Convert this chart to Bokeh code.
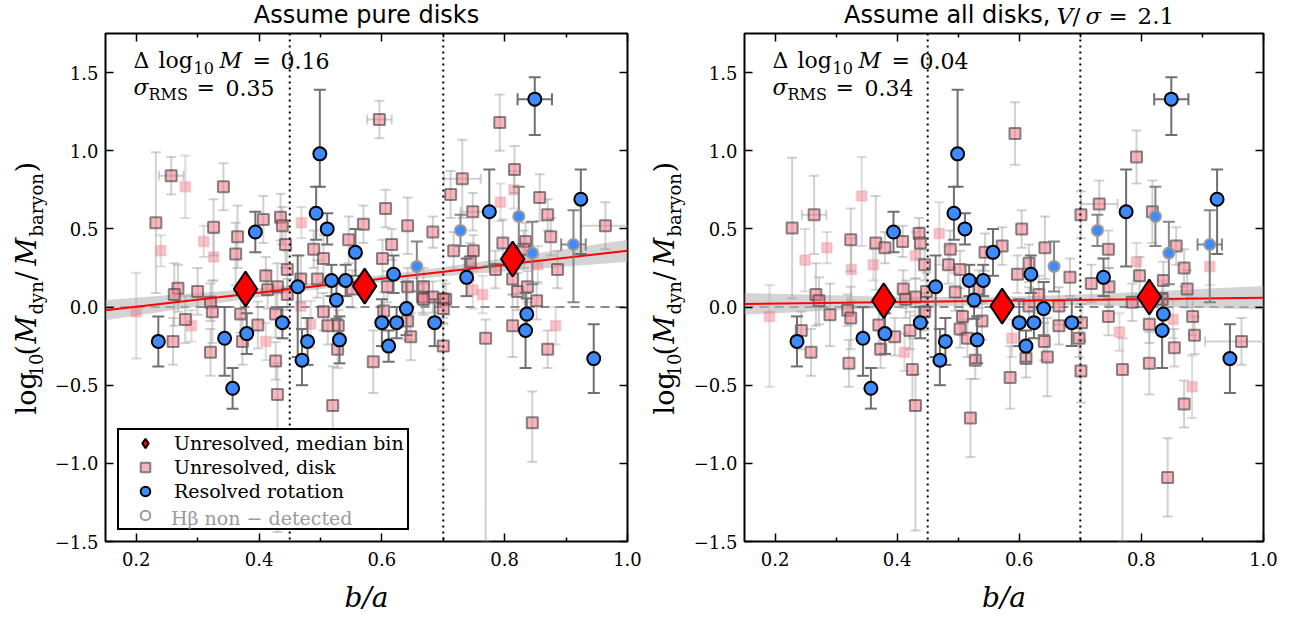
import numpy as np
from bokeh.plotting import figure
from bokeh.layouts import row, column
from bokeh.models import (Range1d, FixedTicker, CustomJSTickFormatter, LinearAxis,
                          Span, Label, Legend, LegendItem)
from bokeh.embed import file_html
from bokeh.resources import INLINE

# ---------------- data ----------------
# resolved rotators (same galaxies in both panels)
res_ba = [0.236, 0.394, 0.344, 0.380, 0.357, 0.438, 0.463, 0.479, 0.470, 0.499,
          0.493, 0.511, 0.557, 0.518, 0.541, 0.526, 0.531, 0.600, 0.619, 0.640,
          0.624, 0.611, 0.686, 0.738, 0.775, 0.849, 0.924, 0.836, 0.834, 0.945]
res_dm = [-0.22, 0.48, -0.20, -0.17, -0.52, -0.10, 0.13, -0.22, -0.34, 0.98,
          0.60, 0.50, 0.35, 0.17, 0.17, 0.045, -0.21, -0.10, 0.21, -0.01,
          -0.10, -0.25, -0.10, 0.19, 0.61, 1.33, 0.69, -0.045, -0.15, -0.33]
res_elo = [0.16, 0.13, 0.24, 0.13, 0.13, 0.10, 0.45, 0.15, 0.16, 0.21,
           0.17, 0.10, 0.15, 0.10, 0.10, 0.12, 0.15, 0.15, 0.12, 0.17,
           0.10, 0.10, 0.15, 0.12, 0.35, 0.23, 0.35, 0.10, 0.24, 0.22]
res_ehi = [0.16, 0.13, 0.20, 0.13, 0.13, 0.10, 0.20, 0.15, 0.20, 0.41,
           0.17, 0.10, 0.15, 0.10, 0.10, 0.12, 0.15, 0.15, 0.12, 0.17,
           0.10, 0.10, 0.15, 0.12, 0.27, 0.14, 0.19, 0.10, 0.24, 0.22]
res_xerr = [0, 0, 0, 0, 0, 0, 0, 0, 0, 0,
            0, 0, 0, 0, 0, 0, 0, 0, 0, 0,
            0, 0, 0, 0, 0, 0.028, 0, 0, 0, 0]

# resolved rotators without an H-beta detection
resnd_ba = [0.657, 0.728, 0.823, 0.845, 0.912]
resnd_dm = [0.26, 0.49, 0.58, 0.345, 0.40]
resnd_elo = [0.16, 0.10, 0.19, 0.20, 0.37]
resnd_ehi = [0.16, 0.10, 0.19, 0.20, 0.22]
resnd_xerr = [0, 0, 0, 0, 0.02]

# unresolved galaxies, pure-disk assumption
left_ba = [0.342, 0.326, 0.365, 0.407, 0.435, 0.438, 0.469, 0.489, 0.443, 0.326,
           0.362, 0.446, 0.411, 0.430, 0.446, 0.414, 0.468, 0.495, 0.505, 0.546,
           0.570, 0.606, 0.601, 0.616, 0.642, 0.683, 0.712, 0.321, 0.324, 0.370,
           0.398, 0.373, 0.427, 0.427, 0.321, 0.430, 0.505, 0.512, 0.529, 0.528,
           0.520, 0.552, 0.586, 0.603, 0.609, 0.642, 0.666, 0.683, 0.647, 0.642,
           0.700, 0.704, 0.468, 0.484, 0.411, 0.792, 0.731, 0.816, 0.748, 0.857,
           0.870, 0.717, 0.797, 0.834, 0.875, 0.964, 0.749, 0.744, 0.785, 0.813,
           0.831, 0.821, 0.837, 0.886, 0.748, 0.668, 0.668, 0.700, 0.700, 0.852,
           0.813, 0.769, 0.870, 0.793, 0.815, 0.883, 0.764, 0.854, 0.596, 0.845,
           0.232, 0.257, 0.268, 0.262, 0.310, 0.280, 0.300, 0.280, 0.260, 0.200,
           0.240, 0.290]
left_dm = [0.77, 0.51, 0.45, 0.56, 0.575, 0.52, 0.54, 0.37, 0.40, 0.32,
           0.34, 0.24, 0.20, 0.13, 0.08, 0.11, 0.18, 0.18, 0.31, 0.43,
           0.53, 0.63, 0.31, 0.40, 0.52, 0.48, 0.72, 0.03, -0.03, -0.045,
           -0.115, -0.22, -0.045, -0.345, -0.29, -0.56, -0.03, -0.12, -0.12, -0.27,
           -0.63, 0.115, -0.35, -0.025, 0.13, 0.13, 0.064, 0.064, -0.19, -0.09,
           -0.25, 0.05, 0.006, -0.11, -0.22, 1.18, 0.82, 0.88, 0.61, 0.70,
           0.59, 0.36, 0.41, 0.42, 0.45, 0.52, 0.36, 0.29, 0.24, 0.18,
           0.37, 0.10, 0.13, 0.24, 0.11, 0.13, 0.05, 0.05, -0.01, 0.04,
           -0.12, -0.20, -0.27, 0.67, 0.75, -0.12, 0.08, 0.27, 1.20, -0.74,
           0.54, 0.84, 0.12, 0.08, 0.42, 0.77, 0.10, -0.08, -0.22, -0.03,
           0.36, -0.12]
left_elo = [0.15, 0.18, 0.20, 0.15, 0.15, 0.12, 0.10, 0.12, 0.15, 0.15,
            0.20, 0.12, 0.12, 0.15, 0.10, 0.12, 0.15, 0.12, 0.15, 0.15,
            0.12, 0.12, 0.12, 0.10, 0.18, 0.10, 0.15, 0.12, 0.20, 0.12,
            0.15, 0.15, 0.15, 0.12, 0.15, 0.88, 0.12, 0.12, 0.10, 0.12,
            0.30, 0.12, 0.20, 0.12, 0.10, 0.12, 0.10, 0.10, 0.15, 0.12,
            0.15, 0.10, 0.15, 0.15, 0.12, 0.18, 0.25, 0.15, 0.12, 0.15,
            0.10, 0.12, 0.15, 0.12, 0.12, 0.15, 0.10, 0.12, 0.12, 0.10,
            0.12, 0.12, 0.10, 0.12, 0.12, 0.12, 0.10, 0.12, 0.10, 0.12,
            0.20, 1.30, 0.12, 0.12, 0.12, 0.12, 0.12, 0.12, 0.12, 0.25,
            0.45, 0.12, 0.15, 0.20, 0.10, 0.20, 0.15, 0.15, 0.15, 0.30,
            0.10, 0.10]
left_ehi = [0.15, 0.18, 0.20, 0.15, 0.15, 0.12, 0.10, 0.12, 0.15, 0.15,
            0.20, 0.12, 0.12, 0.15, 0.10, 0.12, 0.15, 0.12, 0.15, 0.15,
            0.12, 0.12, 0.12, 0.10, 0.18, 0.10, 0.15, 0.12, 0.20, 0.12,
            0.15, 0.15, 0.15, 0.12, 0.15, 0.20, 0.12, 0.12, 0.10, 0.12,
            0.25, 0.12, 0.20, 0.12, 0.10, 0.12, 0.10, 0.10, 0.15, 0.12,
            0.15, 0.10, 0.15, 0.15, 0.12, 0.18, 0.25, 0.15, 0.12, 0.15,
            0.10, 0.12, 0.15, 0.12, 0.12, 0.15, 0.10, 0.12, 0.12, 0.10,
            0.12, 0.12, 0.10, 0.12, 0.12, 0.12, 0.10, 0.12, 0.10, 0.12,
            0.20, 0.12, 0.12, 0.12, 0.12, 0.12, 0.12, 0.12, 0.12, 0.20,
            0.45, 0.12, 0.15, 0.20, 0.10, 0.20, 0.15, 0.15, 0.15, 0.25,
            0.10, 0.10]
left_xerr = [0, 0, 0, 0, 0, 0, 0, 0, 0, 0,
             0, 0, 0, 0, 0, 0, 0, 0, 0, 0,
             0, 0, 0, 0, 0, 0, 0, 0, 0, 0,
             0, 0, 0, 0, 0, 0, 0, 0, 0, 0,
             0, 0, 0, 0, 0, 0, 0, 0, 0, 0,
             0, 0, 0, 0, 0, 0, 0.03, 0, 0.02, 0,
             0, 0, 0, 0, 0, 0.04, 0, 0, 0, 0,
             0, 0, 0, 0, 0, 0, 0, 0, 0, 0,
             0, 0, 0, 0, 0, 0, 0, 0, 0.02, 0,
             0, 0.02, 0, 0, 0, 0, 0, 0, 0, 0,
             0, 0]
left_hb = [1, 1, 1, 1, 1, 1, 0, 1, 1, 0,
           1, 1, 1, 1, 1, 1, 1, 1, 1, 1,
           1, 1, 1, 1, 1, 1, 1, 1, 1, 1,
           1, 1, 1, 1, 1, 1, 1, 1, 1, 1,
           1, 1, 1, 1, 1, 1, 1, 1, 1, 1,
           1, 1, 0, 0, 0, 1, 1, 1, 1, 1,
           1, 1, 1, 1, 1, 1, 1, 1, 1, 1,
           1, 1, 1, 1, 0, 1, 1, 1, 1, 1,
           1, 1, 1, 0, 0, 0, 0, 0, 1, 1,
           1, 1, 1, 1, 0, 0, 1, 1, 1, 0,
           0, 0]

# unresolved galaxies, all disks with V/sigma = 2.1
right_ba = [0.228, 0.264, 0.249, 0.285, 0.342, 0.324, 0.325, 0.365, 0.380, 0.361,
            0.409, 0.436, 0.438, 0.430, 0.445, 0.191, 0.267, 0.272, 0.290, 0.243,
            0.259, 0.319, 0.324, 0.321, 0.370, 0.373, 0.396, 0.410, 0.414, 0.430,
            0.448, 0.445, 0.421, 0.412, 0.425, 0.430, 0.469, 0.487, 0.484, 0.503,
            0.495, 0.507, 0.503, 0.515, 0.528, 0.520, 0.544, 0.572, 0.534, 0.539,
            0.585, 0.604, 0.597, 0.588, 0.593, 0.616, 0.632, 0.616, 0.642, 0.665,
            0.665, 0.641, 0.646, 0.611, 0.683, 0.702, 0.701, 0.701, 0.698, 0.718,
            0.731, 0.746, 0.747, 0.746, 0.769, 0.764, 0.792, 0.797, 0.785, 0.813,
            0.813, 0.818, 0.792, 0.836, 0.834, 0.854, 0.857, 0.870, 0.875, 0.852,
            0.884, 0.887, 0.883, 0.870, 0.912, 0.964, 0.843]
right_dm = [0.505, 0.59, 0.30, 0.38, 0.71, 0.43, 0.24, 0.41, 0.38, 0.27,
            0.42, 0.47, 0.41, 0.33, 0.27, -0.06, 0.08, 0.04, -0.05, -0.15,
            -0.29, -0.02, -0.07, -0.36, -0.115, -0.27, -0.19, 0.115, 0.05, 0.064,
            0.10, -0.03, -0.15, -0.29, -0.40, -0.63, 0.47, 0.37, 0.27, 0.24,
            0.096, -0.06, -0.14, -0.20, -0.34, -0.71, 0.35, 0.39, 0.115, -0.09,
            -0.45, 0.50, 0.21, -0.20, 1.11, 0.28, 0.08, 0.006, 0.38, 0.006,
            -0.12, -0.22, -0.32, -0.33, 0.19, -0.10, -0.41, 0.59, -0.20, 0.15,
            0.66, 0.37, 0.13, -0.06, -0.40, -0.16, 0.96, 0.20, 0.03, -0.11,
            -0.36, 0.61, 0.29, 0.17, 0.05, -0.26, 0.39, 0.25, 0.115, -0.08,
            -0.06, -0.18, -0.51, -0.62, 0.26, -0.22, -1.09]
right_elo = [0.45, 0.25, 0.20, 0.10, 0.32, 0.20, 0.20, 0.30, 0.10, 0.10,
             0.10, 0.10, 0.10, 0.15, 0.10, 0.45, 0.20, 0.15, 0.20, 0.12,
             0.15, 0.10, 0.20, 0.15, 0.12, 0.12, 0.12, 0.12, 0.12, 0.12,
             0.12, 0.12, 0.12, 0.12, 0.20, 0.80, 0.20, 0.12, 0.12, 0.12,
             0.12, 0.12, 0.12, 0.12, 0.12, 0.25, 0.12, 0.12, 0.12, 0.12,
             0.20, 0.12, 0.12, 0.12, 0.20, 0.12, 0.12, 0.12, 0.20, 0.12,
             0.12, 0.12, 0.25, 0.12, 0.12, 0.12, 0.20, 0.15, 0.12, 0.12,
             0.15, 0.12, 0.12, 0.12, 1.10, 0.12, 0.17, 0.12, 0.12, 0.12,
             0.20, 0.20, 0.12, 0.12, 0.12, 0.12, 0.12, 0.12, 0.12, 0.12,
             0.12, 0.12, 0.20, 0.15, 0.12, 0.15, 0.25]
right_ehi = [0.45, 0.25, 0.20, 0.10, 0.25, 0.20, 0.20, 0.30, 0.10, 0.10,
             0.10, 0.10, 0.10, 0.15, 0.10, 0.20, 0.20, 0.15, 0.20, 0.12,
             0.15, 0.10, 0.20, 0.15, 0.12, 0.12, 0.12, 0.12, 0.12, 0.12,
             0.12, 0.12, 0.12, 0.12, 0.20, 0.20, 0.20, 0.12, 0.12, 0.12,
             0.12, 0.12, 0.12, 0.12, 0.12, 0.25, 0.12, 0.12, 0.12, 0.12,
             0.20, 0.12, 0.12, 0.12, 0.20, 0.12, 0.12, 0.12, 0.20, 0.12,
             0.12, 0.12, 0.25, 0.12, 0.12, 0.12, 0.20, 0.15, 0.12, 0.12,
             0.15, 0.12, 0.12, 0.12, 0.20, 0.12, 0.17, 0.12, 0.12, 0.12,
             0.20, 0.20, 0.12, 0.12, 0.12, 0.12, 0.12, 0.12, 0.12, 0.12,
             0.12, 0.12, 0.20, 0.15, 0.12, 0.15, 0.25]
right_xerr = [0, 0.02, 0, 0, 0, 0, 0, 0, 0, 0,
              0, 0, 0, 0, 0, 0, 0, 0, 0, 0,
              0, 0, 0, 0, 0, 0, 0, 0, 0, 0,
              0, 0, 0, 0, 0, 0, 0, 0, 0, 0,
              0, 0, 0, 0, 0, 0, 0, 0, 0, 0,
              0, 0, 0, 0, 0, 0, 0, 0, 0, 0,
              0, 0, 0, 0, 0, 0, 0, 0, 0, 0,
              0.03, 0, 0, 0, 0, 0, 0, 0, 0, 0,
              0, 0, 0, 0, 0, 0, 0, 0, 0, 0,
              0, 0, 0, 0, 0, 0.06, 0]
right_hb = [1, 1, 0, 0, 0, 1, 0, 1, 1, 0,
            1, 1, 1, 0, 1, 0, 1, 1, 1, 1,
            1, 1, 1, 1, 1, 1, 1, 1, 1, 1,
            1, 1, 1, 0, 1, 1, 0, 1, 1, 1,
            1, 1, 1, 1, 1, 1, 1, 1, 1, 1,
            1, 1, 1, 0, 1, 1, 1, 1, 1, 1,
            1, 1, 1, 1, 1, 1, 1, 1, 1, 1,
            1, 1, 1, 1, 1, 0, 1, 1, 1, 1,
            1, 1, 0, 1, 1, 1, 1, 1, 1, 0,
            1, 1, 0, 1, 0, 1, 1]

# median-bin values
bin_ba = [0.378, 0.572, 0.813]
bin_dm_left = [0.115, 0.134, 0.307]
bin_dm_right = [0.040, 0.006, 0.064]

# linear fits and their confidence band
fit_ba = [0.15, 1.0]
fit_left = [-0.02, 0.36]
fit_right = [0.02, 0.06]
band_ba = [0.15, 0.25, 0.35, 0.45, 0.55, 0.65, 0.75, 0.85, 1.0]
band_half_left = [0.065, 0.05, 0.035, 0.025, 0.02, 0.025, 0.035, 0.05, 0.07]
band_half_right = [0.07, 0.055, 0.04, 0.03, 0.025, 0.03, 0.04, 0.055, 0.075]

# b/a bin edges
bin_edges = [0.45, 0.70]

x_ticks = [0.2, 0.4, 0.6, 0.8, 1.0]
x_minor = [0.3, 0.5, 0.7, 0.9]
y_ticks = [-1.5, -1.0, -0.5, 0.0, 0.5, 1.0, 1.5]

# ---------------- styling ----------------
SERIF = "DejaVu Serif"
SANS = "DejaVu Sans"
PINK = "#f07a88"
BLUE = "#3d8bff"
BASE_FIX = 0.36   # lift applied to alphabetic-baseline labels, in em


def rich(p, x, y, pieces, angle=0.0, color="black", font=SERIF):
    """Place text pieces (text, size, style, shift, offset) in frame pixels.
    offset runs along the text direction, shift is a drop below the baseline."""
    c, s = np.cos(angle), np.sin(angle)
    for t, sz, style, shift, off in pieces:
        drop = shift - BASE_FIX * sz
        px = x + off * c + drop * s
        py = y + off * s - drop * c
        p.add_layout(Label(x=px, y=py, x_units="screen", y_units="screen",
                           text=t, angle=angle, text_font=font,
                           text_font_size=f"{sz}px", text_font_style=style,
                           text_color=color, text_align="left",
                           text_baseline="alphabetic"))


def blank(width, height):
    p = figure(width=width, height=height, x_range=Range1d(0, 1), y_range=Range1d(0, 1),
               output_backend="svg", toolbar_location=None, min_border=0,
               x_axis_type=None, y_axis_type=None)
    p.grid.visible = False
    p.outline_line_color = None
    p.background_fill_color = "white"
    p.border_fill_color = "white"
    return p


def errorbars(p, x, y, elo, ehi, xerr, color, alpha, cap):
    x, y = np.asarray(x, float), np.asarray(y, float)
    lo, hi = y - np.asarray(elo), y + np.asarray(ehi)
    p.segment(x0=x, y0=lo, x1=x, y1=hi, line_color=color, line_alpha=alpha, line_width=2)
    p.scatter(np.concatenate([x, x]), np.concatenate([lo, hi]), marker="dash",
              size=cap, line_color=color, line_alpha=alpha, line_width=2)
    xe = np.asarray(xerr, float)
    m = xe > 0
    if m.any():
        p.segment(x0=x[m] - xe[m], y0=y[m], x1=x[m] + xe[m], y1=y[m],
                  line_color=color, line_alpha=alpha, line_width=2)
        p.scatter(np.concatenate([x[m] - xe[m], x[m] + xe[m]]),
                  np.concatenate([y[m], y[m]]), marker="dash", angle=np.pi / 2,
                  size=cap, line_color=color, line_alpha=alpha, line_width=2)


def style_axis(ax, ticker, labels=True):
    ax.ticker = ticker
    ax.axis_line_color = None
    ax.major_tick_in = 8
    ax.major_tick_out = 0
    ax.minor_tick_in = 4
    ax.minor_tick_out = 0
    ax.major_tick_line_color = "black"
    ax.major_tick_line_width = 1.5
    ax.minor_tick_line_color = "black"
    ax.minor_tick_line_width = 1.5
    if labels:
        ax.formatter = CustomJSTickFormatter(
            code="return tick.toFixed(1).replace('-', '\u2212');")
        ax.major_label_text_font = SERIF
        ax.major_label_text_font_size = "18px"
        ax.major_label_text_color = "black"
    else:
        ax.major_label_text_font_size = "0px"
        ax.major_label_text_color = None
        ax.major_label_standoff = 0


def panel(width, ba, dm, elo, ehi, xerr, hb, bin_dm, fit_y, band_half,
          left_border, right_border, stats, with_legend):
    p = figure(width=width, height=590, x_range=Range1d(0.15, 1.0),
               y_range=Range1d(-1.5, 1.75), output_backend="svg",
               toolbar_location=None, min_border_left=left_border,
               min_border_right=right_border, min_border_top=3,
               min_border_bottom=79)
    p.grid.visible = False
    p.outline_line_color = "black"
    p.outline_line_width = 2
    p.background_fill_color = "white"
    p.border_fill_color = "white"

    xt = FixedTicker(ticks=x_ticks, minor_ticks=x_minor)
    yt = FixedTicker(ticks=y_ticks, minor_ticks=[])
    style_axis(p.xaxis[0], xt)
    style_axis(p.yaxis[0], yt)
    p.xaxis[0].major_label_standoff = 10
    p.yaxis[0].major_label_standoff = 7
    p.xaxis[0].axis_label = "b/a"
    p.xaxis[0].axis_label_text_font = SERIF
    p.xaxis[0].axis_label_text_font_style = "italic"
    p.xaxis[0].axis_label_text_font_size = "28px"
    p.xaxis[0].axis_label_text_color = "black"
    p.xaxis[0].axis_label_standoff = 12
    top = LinearAxis()
    style_axis(top, xt, labels=False)
    p.add_layout(top, "above")
    rgt = LinearAxis()
    style_axis(rgt, yt, labels=False)
    p.add_layout(rgt, "right")

    # confidence band of the fit and the zero line
    bx = np.asarray(band_ba)
    by = np.interp(bx, fit_ba, fit_y)
    bh = np.asarray(band_half)
    p.varea(x=bx, y1=by - bh, y2=by + bh, fill_color="#b8b8b8", fill_alpha=0.6)
    p.add_layout(Span(location=0, dimension="width", line_color="#8a8a8a",
                      line_dash="9 6", line_width=2, level="underlay"))

    # unresolved galaxies
    ba, dm = np.asarray(ba), np.asarray(dm)
    elo, ehi, xerr = np.asarray(elo), np.asarray(ehi), np.asarray(xerr)
    det = np.asarray(hb) == 1
    nd = ~det
    errorbars(p, ba[nd], dm[nd], elo[nd], ehi[nd], xerr[nd], "#a8a8a8", 0.4, 10)
    p.scatter(ba[nd], dm[nd], marker="square", size=10, fill_color=PINK,
              fill_alpha=0.45, line_color=PINK, line_alpha=0.25, line_width=2)
    errorbars(p, ba[det], dm[det], elo[det], ehi[det], xerr[det], "#9a9a9a", 0.45, 10)
    r_disk = p.scatter(ba[det], dm[det], marker="square", size=11, fill_color=PINK,
                       fill_alpha=0.55, line_color="#3c3c3c", line_alpha=0.6,
                       line_width=2)

    for edge in bin_edges:
        p.add_layout(Span(location=edge, dimension="height", line_color="black",
                          line_dash="2 4", line_width=2, level="glyph"))

    p.line(fit_ba, fit_y, line_color="red", line_width=2)

    # resolved galaxies
    errorbars(p, resnd_ba, resnd_dm, resnd_elo, resnd_ehi, resnd_xerr, "#7a7a7a", 0.9, 12)
    p.scatter(resnd_ba, resnd_dm, marker="circle", size=11, fill_color=BLUE,
              line_color=None)
    r_nd = p.scatter(resnd_ba, resnd_dm, marker="circle", size=11, fill_color=None,
                     line_color="#9a9a9a", line_width=2)
    errorbars(p, res_ba, res_dm, res_elo, res_ehi, res_xerr, "#707070", 1.0, 12)
    r_res = p.scatter(res_ba, res_dm, marker="circle", size=13, fill_color=BLUE,
                      line_color="black", line_width=2)

    r_bin = p.scatter(bin_ba, bin_dm, marker="diamond", size=35, fill_color="red",
                      line_color="black", line_width=2)

    if with_legend:
        # an invisible stand-in so the grey caption can sit on the fourth row
        r_none = p.scatter(resnd_ba, resnd_dm, marker="circle", size=1,
                           fill_alpha=0, line_alpha=0)
        common = dict(glyph_width=50, glyph_height=24, label_height=24, spacing=0,
                      padding=1, margin=0, label_standoff=4, label_text_font=SERIF,
                      label_text_font_size="19px", location=(12, 11))
        leg = Legend(items=[LegendItem(label="Unresolved, median bin", renderers=[r_bin]),
                            LegendItem(label="Unresolved, disk", renderers=[r_disk]),
                            LegendItem(label="Resolved rotation", renderers=[r_res]),
                            LegendItem(label=" ", renderers=[r_nd])],
                     label_width=232, label_text_color="black",
                     border_line_color="black", border_line_alpha=1.0,
                     border_line_width=2, background_fill_color="white",
                     background_fill_alpha=1.0, **common)
        p.add_layout(leg)
        leg2 = Legend(items=[LegendItem(label="H\u03b2 non \u2212 detected",
                                        renderers=[r_none])],
                      label_text_color="#9a9a9a", border_line_color=None,
                      background_fill_alpha=0.0, **common)
        p.add_layout(leg2)

    # fit statistics
    d, r = stats
    rich(p, 28, 473, [("\u0394", 22, "normal", 0, 0), ("log", 22, "normal", 0, 25),
                      ("10", 16, "normal", 5, 60), ("M", 22, "italic", 0, 86),
                      ("=", 22, "normal", 0, 119), (d, 22, "normal", 0, 147)])
    rich(p, 28, 446, [("\u03c3", 22, "italic", 0, 0), ("RMS", 16, "normal", 5, 15),
                      ("=", 22, "normal", 0, 63), (r, 22, "normal", 0, 92)])
    return p


def ylabel(width, x):
    p = blank(width, 620)
    Y, S, SH = 27, 18, 6
    rich(p, x, 206, [("log", Y, "normal", 0, 0), ("10", S, "normal", SH, 38),
                     ("(", Y, "normal", 0, 59), ("M", Y, "italic", 0, 71),
                     ("dyn", S, "normal", SH, 100), ("/", Y, "normal", 0, 134),
                     ("M", Y, "italic", 0, 149), ("baryon", S, "normal", SH, 178),
                     (")", Y, "normal", 0, 242)], angle=np.pi / 2)
    return p


# The title strips share their column's frame edges with the panel below,
# so positions are measured from the panel frame's left edge.
# left half
yl1 = ylabel(48, 36)
t1 = blank(600, 30)
t1.add_layout(Label(x=261, y=6.5 + BASE_FIX * 24, x_units="screen", y_units="screen",
                    text="Assume pure disks", text_font=SANS, text_font_size="24px",
                    text_color="black", text_align="center", text_baseline="alphabetic"))
p1 = panel(600, left_ba, left_dm, left_elo, left_ehi, left_xerr, left_hb,
           bin_dm_left, fit_left, band_half_left, 57, 21, ("0.16", "0.35"), True)

# right half
yl2 = ylabel(42, 26)
t2 = blank(606, 30)
t2.add_layout(Label(x=306, y=6.5 + BASE_FIX * 24, x_units="screen", y_units="screen",
                    text="Assume all disks,", text_font=SANS, text_font_size="24px",
                    text_color="black", text_align="right", text_baseline="alphabetic"))
rich(t2, 312, 6.5, [("V", 23, "italic", 0, 0), ("/", 23, "normal", 0, 16),
                    ("\u03c3", 23, "italic", 0, 29), ("=", 23, "normal", 0, 52),
                    ("2.1", 23, "normal", 0, 81)])
p2 = panel(606, right_ba, right_dm, right_elo, right_ehi, right_xerr, right_hb,
           bin_dm_right, fit_right, band_half_right, 51, 33, ("0.04", "0.34"), False)

layout = row(yl1, column(t1, p1), yl2, column(t2, p2))
open("out.html", "w").write(file_html(layout, INLINE))
